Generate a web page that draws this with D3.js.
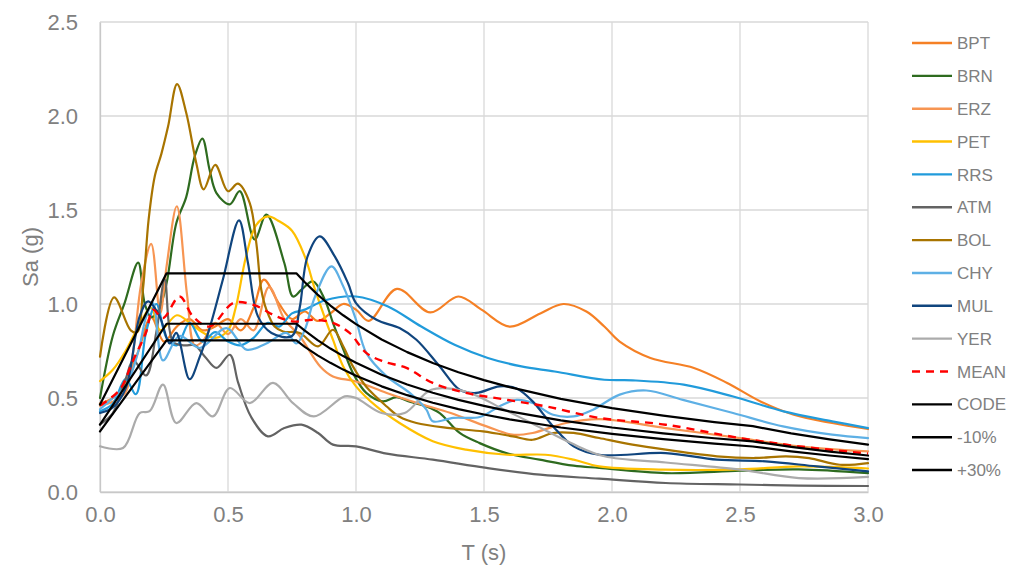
<!DOCTYPE html>
<html>
<head>
<meta charset="utf-8">
<script src="https://cdn.jsdelivr.net/npm/d3@7"></script>
<style>
  html, body { margin: 0; padding: 0; background: #ffffff; }
  svg text { font-family: "Liberation Sans", Arial, sans-serif; }
</style>
</head>
<body>
<svg id="chart" width="1016" height="569"></svg>
<script>
// ---- Response spectra: period T (s) and spectral acceleration Sa (g) ----
const bptT  = [0, 0.05, 0.1, 0.15, 0.2, 0.25, 0.3, 0.35, 0.4, 0.45, 0.5, 0.55, 0.6, 0.64, 0.7, 0.75, 0.8, 0.85, 0.9, 0.95, 1.0, 1.05, 1.16, 1.29, 1.4, 1.49, 1.6, 1.72, 1.81, 1.9, 1.97, 2.03, 2.15, 2.32, 2.45, 2.58, 2.71, 2.86, 3.0];
const bptSa = [0.47, 0.5, 0.58, 0.75, 0.93, 0.8, 0.88, 0.92, 0.86, 0.88, 0.92, 0.86, 0.98, 1.13, 1.0, 0.92, 0.96, 0.91, 0.95, 1.0, 0.97, 0.91, 1.08, 0.955, 1.04, 0.97, 0.88, 0.95, 1.0, 0.96, 0.88, 0.8, 0.713, 0.66, 0.58, 0.482, 0.411, 0.367, 0.335];

const brnT  = [0, 0.05, 0.096, 0.149, 0.175, 0.2, 0.23, 0.26, 0.298, 0.337, 0.37, 0.4, 0.428, 0.455, 0.507, 0.546, 0.604, 0.65, 0.72, 0.754, 0.787, 0.832, 0.878, 0.91, 0.95, 0.988, 1.04, 1.105, 1.158, 1.21, 1.275, 1.327, 1.405, 1.483, 1.587, 1.717, 1.85, 1.95, 2.21, 2.5, 2.73, 3.0];
const brnSa = [0.5, 0.83, 1.005, 1.22, 1.0, 0.93, 0.97, 1.11, 1.43, 1.57, 1.785, 1.88, 1.714, 1.59, 1.53, 1.6, 1.343, 1.475, 1.218, 1.04, 1.076, 1.12, 1.023, 0.9, 0.76, 0.633, 0.527, 0.482, 0.505, 0.48, 0.455, 0.42, 0.314, 0.26, 0.207, 0.172, 0.14, 0.128, 0.1, 0.113, 0.12, 0.1];

const erzT  = [0, 0.05, 0.1, 0.13, 0.16, 0.2, 0.235, 0.26, 0.3, 0.34, 0.37, 0.4, 0.45, 0.5, 0.55, 0.6, 0.66, 0.72, 0.78, 0.86, 0.91, 1.0, 1.12, 1.24, 1.37, 1.51, 1.61, 1.69, 1.82, 1.95, 2.21, 2.5, 2.73, 3.0];
const erzSa = [0.46, 0.48, 0.53, 0.75, 1.1, 1.32, 0.95, 1.2, 1.52, 1.05, 0.78, 0.8, 0.9, 0.84, 0.92, 0.86, 1.09, 0.92, 0.83, 0.668, 0.615, 0.588, 0.527, 0.473, 0.42, 0.349, 0.305, 0.314, 0.367, 0.388, 0.34, 0.287, 0.243, 0.216];

const petT  = [0, 0.05, 0.1, 0.15, 0.2, 0.235, 0.3, 0.35, 0.4, 0.45, 0.5, 0.53, 0.57, 0.61, 0.656, 0.7, 0.75, 0.8, 0.84, 0.88, 0.91, 0.95, 1.0, 1.08, 1.17, 1.3, 1.43, 1.59, 1.74, 1.85, 1.95, 2.2, 2.5, 2.73, 3.0];
const petSa = [0.59, 0.65, 0.75, 0.88, 0.98, 0.86, 0.94, 0.9, 0.85, 0.82, 0.86, 0.98, 1.25, 1.42, 1.466, 1.44, 1.39, 1.253, 1.076, 0.92, 0.81, 0.668, 0.562, 0.455, 0.367, 0.27, 0.225, 0.198, 0.198, 0.172, 0.136, 0.119, 0.12, 0.136, 0.125];

const rrsT  = [0, 0.05, 0.1, 0.14, 0.18, 0.22, 0.26, 0.3, 0.35, 0.4, 0.45, 0.5, 0.55, 0.6, 0.656, 0.7, 0.75, 0.8, 0.88, 1.0, 1.125, 1.255, 1.385, 1.515, 1.646, 1.776, 1.97, 2.08, 2.28, 2.47, 2.67, 2.86, 3.0];
const rrsSa = [0.43, 0.47, 0.6, 0.52, 0.85, 1.0, 0.82, 0.78, 0.9, 0.8, 0.85, 0.8, 0.78, 0.82, 0.9, 0.88, 0.95, 0.97, 1.02, 1.04, 0.987, 0.88, 0.783, 0.713, 0.668, 0.641, 0.597, 0.594, 0.571, 0.509, 0.429, 0.376, 0.34];

const atmT  = [0, 0.05, 0.1, 0.13, 0.18, 0.22, 0.253, 0.285, 0.33, 0.37, 0.41, 0.455, 0.507, 0.54, 0.59, 0.656, 0.72, 0.787, 0.852, 0.91, 1.0, 1.12, 1.3, 1.51, 1.72, 1.95, 2.21, 2.5, 2.73, 3.0];
const atmSa = [0.36, 0.42, 0.6, 0.7, 0.62, 0.85, 1.13, 0.8, 0.78, 0.78, 0.72, 0.66, 0.73, 0.58, 0.4, 0.296, 0.34, 0.358, 0.314, 0.252, 0.243, 0.204, 0.172, 0.128, 0.092, 0.071, 0.048, 0.04, 0.034, 0.032];

const bolT  = [0, 0.055, 0.12, 0.145, 0.168, 0.19, 0.214, 0.24, 0.266, 0.301, 0.337, 0.376, 0.405, 0.45, 0.5, 0.539, 0.585, 0.611, 0.63, 0.65, 0.682, 0.715, 0.78, 0.852, 0.91, 0.95, 0.988, 1.04, 1.12, 1.17, 1.236, 1.366, 1.496, 1.613, 1.69, 1.77, 1.85, 1.95, 2.08, 2.21, 2.41, 2.56, 2.68, 2.77, 2.89, 3.0];
const bolSa = [0.72, 1.035, 0.86, 0.85, 1.08, 1.45, 1.68, 1.8, 1.945, 2.17, 2.016, 1.75, 1.61, 1.74, 1.6, 1.64, 1.537, 1.32, 1.076, 0.97, 0.88, 0.854, 0.846, 0.775, 0.863, 0.775, 0.668, 0.56, 0.455, 0.4, 0.367, 0.34, 0.322, 0.296, 0.278, 0.314, 0.314, 0.287, 0.252, 0.225, 0.19, 0.181, 0.19, 0.18, 0.145, 0.154];

const chyT  = [0, 0.05, 0.1, 0.15, 0.18, 0.207, 0.246, 0.31, 0.39, 0.494, 0.572, 0.65, 0.728, 0.767, 0.8, 0.84, 0.904, 0.95, 1.0, 1.04, 1.12, 1.21, 1.275, 1.3, 1.38, 1.483, 1.56, 1.627, 1.69, 1.77, 1.85, 1.926, 2.03, 2.134, 2.277, 2.473, 2.668, 2.86, 3.0];
const chySa = [0.44, 0.5, 0.56, 0.75, 0.93, 1.005, 0.7, 0.83, 0.766, 0.872, 0.757, 0.79, 0.846, 0.79, 0.863, 1.04, 1.2, 1.094, 0.916, 0.74, 0.615, 0.527, 0.438, 0.376, 0.394, 0.399, 0.455, 0.49, 0.473, 0.411, 0.402, 0.438, 0.518, 0.54, 0.49, 0.42, 0.349, 0.305, 0.287];

const mulT  = [0, 0.05, 0.1, 0.155, 0.188, 0.233, 0.272, 0.298, 0.35, 0.39, 0.43, 0.48, 0.543, 0.578, 0.617, 0.67, 0.75, 0.78, 0.81, 0.858, 0.917, 0.969, 1.0, 1.08, 1.17, 1.236, 1.327, 1.405, 1.47, 1.56, 1.627, 1.69, 1.77, 1.85, 1.95, 2.21, 2.41, 2.6, 2.8, 3.0];
const mulSa = [0.42, 0.45, 0.55, 0.934, 1.014, 0.934, 0.79, 0.846, 0.6, 0.72, 0.88, 1.13, 1.445, 1.218, 0.934, 0.846, 0.83, 0.98, 1.25, 1.36, 1.253, 1.11, 1.005, 0.916, 0.872, 0.81, 0.668, 0.544, 0.527, 0.562, 0.55, 0.482, 0.349, 0.243, 0.198, 0.207, 0.172, 0.163, 0.136, 0.11];

const yerT  = [0, 0.09, 0.155, 0.194, 0.246, 0.298, 0.376, 0.441, 0.507, 0.585, 0.676, 0.754, 0.835, 0.956, 1.0, 1.1, 1.19, 1.294, 1.425, 1.58, 1.71, 1.84, 1.97, 2.21, 2.5, 2.73, 3.0];
const yerSa = [0.243, 0.234, 0.42, 0.43, 0.571, 0.367, 0.473, 0.402, 0.553, 0.473, 0.58, 0.473, 0.402, 0.509, 0.5, 0.42, 0.42, 0.544, 0.535, 0.438, 0.349, 0.26, 0.19, 0.157, 0.119, 0.074, 0.08];

const meanT  = [0, 0.077, 0.129, 0.18, 0.207, 0.246, 0.311, 0.363, 0.428, 0.52, 0.598, 0.689, 0.754, 0.832, 0.91, 0.975, 1.04, 1.105, 1.197, 1.3, 1.43, 1.587, 1.744, 1.95, 2.21, 2.5, 2.73, 3.0];
const meanSa = [0.46, 0.544, 0.7, 0.85, 0.97, 0.925, 1.04, 0.934, 0.88, 1.005, 0.996, 0.934, 0.907, 0.916, 0.9, 0.846, 0.74, 0.695, 0.66, 0.58, 0.527, 0.491, 0.455, 0.394, 0.358, 0.287, 0.243, 0.204];

// Design (code) spectrum and its -10% / +30% bands
const codeT     = [0, 0.26, 0.767, 0.8, 0.85, 0.9, 0.95, 1.0, 1.1, 1.2, 1.3, 1.4, 1.5, 1.6, 1.8, 2.0, 2.2, 2.4, 2.55, 2.7, 2.85, 3.0];
const codeSa    = [0.358, 0.895, 0.895, 0.858, 0.808, 0.763, 0.723, 0.687, 0.624, 0.572, 0.528, 0.49, 0.458, 0.429, 0.381, 0.343, 0.312, 0.286, 0.269, 0.24, 0.215, 0.194];
const minus10Sa = [0.322, 0.806, 0.806, 0.772, 0.727, 0.687, 0.651, 0.618, 0.562, 0.515, 0.475, 0.441, 0.412, 0.386, 0.343, 0.309, 0.281, 0.257, 0.242, 0.216, 0.194, 0.175];
const plus30Sa  = [0.465, 1.163, 1.163, 1.116, 1.05, 0.992, 0.94, 0.893, 0.811, 0.744, 0.686, 0.637, 0.595, 0.558, 0.495, 0.446, 0.406, 0.372, 0.35, 0.312, 0.28, 0.252];

// Axis ticks
const xTicks = [0, 0.5, 1.0, 1.5, 2.0, 2.5, 3.0];
const yTicks = [0, 0.5, 1.0, 1.5, 2.0, 2.5];

// Series table (drawing order: later entries sit on top)
const series = [
  { name: "BPT",  t: bptT,  sa: bptSa,  color: "#F58025", smooth: true },
  { name: "BRN",  t: brnT,  sa: brnSa,  color: "#2E6B1F", smooth: true },
  { name: "ERZ",  t: erzT,  sa: erzSa,  color: "#F79552", smooth: true },
  { name: "PET",  t: petT,  sa: petSa,  color: "#FFC000", smooth: true },
  { name: "RRS",  t: rrsT,  sa: rrsSa,  color: "#219BDB", smooth: true },
  { name: "ATM",  t: atmT,  sa: atmSa,  color: "#636363", smooth: true },
  { name: "BOL",  t: bolT,  sa: bolSa,  color: "#A87400", smooth: true },
  { name: "CHY",  t: chyT,  sa: chySa,  color: "#5EB0E5", smooth: true },
  { name: "MUL",  t: mulT,  sa: mulSa,  color: "#10457E", smooth: true },
  { name: "YER",  t: yerT,  sa: yerSa,  color: "#ABABAB", smooth: true },
  { name: "MEAN", t: meanT, sa: meanSa, color: "#FF0000", smooth: true, dash: "8,6" },
  { name: "CODE", t: codeT, sa: codeSa,    color: "#000000", smooth: false },
  { name: "-10%", t: codeT, sa: minus10Sa, color: "#000000", smooth: false },
  { name: "+30%", t: codeT, sa: plus30Sa,  color: "#000000", smooth: false }
];

// ---- Layout ----
const svg = d3.select("#chart");
const plot = { left: 100, right: 868, top: 22, bottom: 492 };

const x = d3.scaleLinear().domain([0, 3]).range([plot.left, plot.right]);
const y = d3.scaleLinear().domain([0, 2.5]).range([plot.bottom, plot.top]);

const gridColor = "#D9D9D9";
const textColor = "#808080";
const tickFont = 22;

// Gridlines
svg.append("g").selectAll("line.h").data(yTicks).join("line")
  .attr("x1", plot.left).attr("x2", plot.right)
  .attr("y1", d => y(d)).attr("y2", d => y(d))
  .attr("stroke", gridColor).attr("stroke-width", 1.3);
svg.append("g").selectAll("line.v").data(xTicks).join("line")
  .attr("x1", d => x(d)).attr("x2", d => x(d))
  .attr("y1", plot.top).attr("y2", plot.bottom)
  .attr("stroke", gridColor).attr("stroke-width", 1.3);

// Axes (tick labels only, Excel style)
const xAxis = d3.axisBottom(x).tickValues(xTicks).tickFormat(d3.format(".1f")).tickSize(0).tickPadding(14);
const yAxis = d3.axisLeft(y).tickValues(yTicks).tickFormat(d3.format(".1f")).tickSize(0).tickPadding(22);

const gx = svg.append("g").attr("transform", `translate(0,${plot.bottom})`).call(xAxis);
const gy = svg.append("g").attr("transform", `translate(${plot.left},0)`).call(yAxis);
[gx, gy].forEach(g => {
  g.select(".domain").attr("stroke", "#C8C8C8").attr("stroke-width", 1.3);
  g.selectAll("text").attr("fill", textColor).attr("font-size", tickFont)
    .attr("font-family", "'Liberation Sans', Arial, sans-serif");
});
gx.selectAll("text").attr("dy", "0.72em");

// Axis titles
svg.append("text")
  .attr("x", (plot.left + plot.right) / 2).attr("y", 560)
  .attr("text-anchor", "middle").attr("fill", textColor).attr("font-size", tickFont)
  .text("T (s)");
svg.append("text")
  .attr("transform", `translate(38,${(plot.top + plot.bottom) / 2}) rotate(-90)`)
  .attr("text-anchor", "middle").attr("fill", textColor).attr("font-size", tickFont)
  .text("Sa (g)");

// Spectrum lines
const smoothLine = d3.line().x(d => x(d[0])).y(d => y(d[1])).curve(d3.curveCatmullRom.alpha(0.5));
const straightLine = d3.line().x(d => x(d[0])).y(d => y(d[1]));

svg.append("g").selectAll("path").data(series).join("path")
  .attr("d", s => (s.smooth ? smoothLine : straightLine)(d3.zip(s.t, s.sa)))
  .attr("fill", "none")
  .attr("stroke", s => s.color)
  .attr("stroke-width", s => s.dash ? 2.4 : 2.2)
  .attr("stroke-dasharray", s => s.dash || null)
  .attr("stroke-linejoin", "round")
  .attr("stroke-linecap", s => s.dash ? "butt" : "round");

// Legend
const legend = svg.append("g").attr("transform", "translate(912,43)");
const rows = legend.selectAll("g").data(series).join("g")
  .attr("transform", (d, i) => `translate(0,${i * 32.85})`);
rows.append("line")
  .attr("x1", 0).attr("x2", 40).attr("y1", 0).attr("y2", 0)
  .attr("stroke", d => d.color).attr("stroke-width", 2.4)
  .attr("stroke-dasharray", d => d.dash || null);
rows.append("text")
  .attr("x", 45).attr("y", 0).attr("dy", "0.36em")
  .attr("fill", textColor).attr("font-size", 17)
  .text(d => d.name);
</script>
</body>
</html>
